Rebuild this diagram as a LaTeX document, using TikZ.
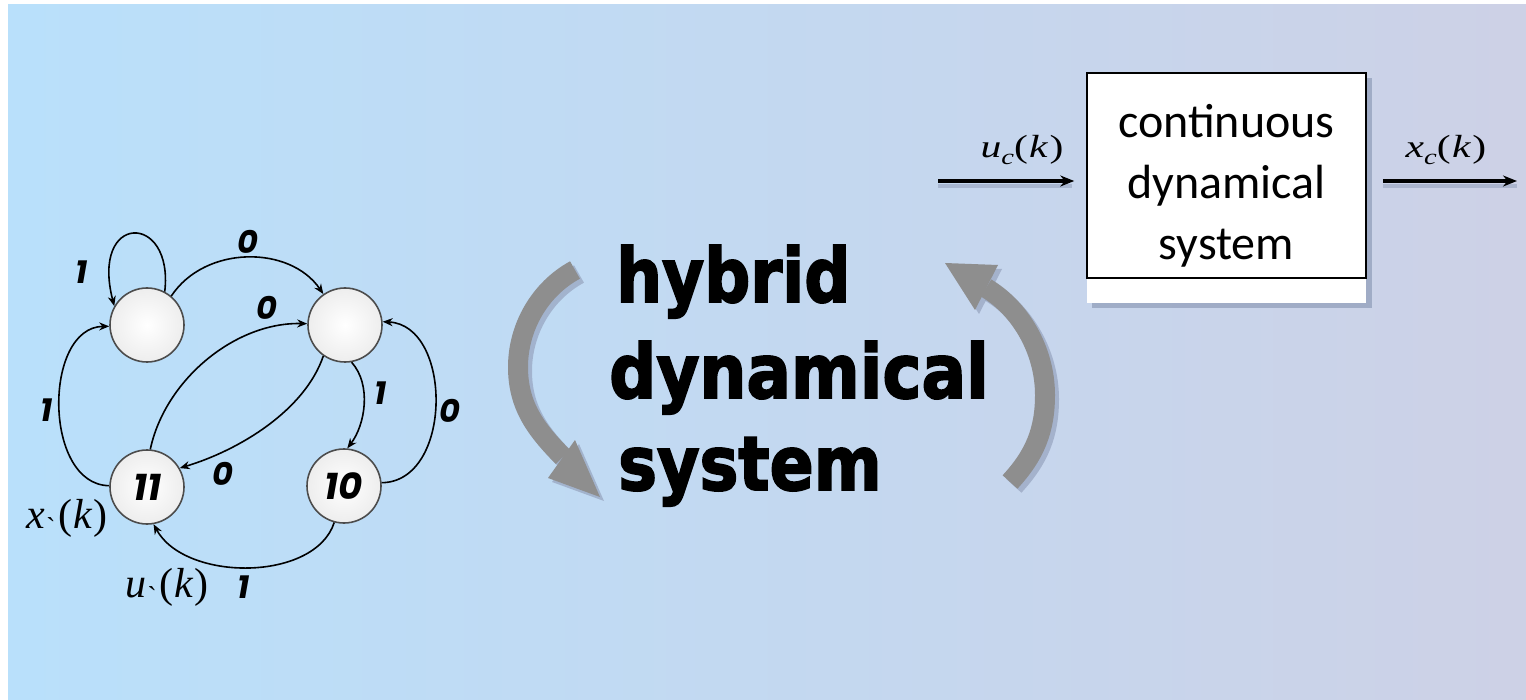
\documentclass[tikz,border=0pt]{standalone}
\usepackage{fontspec}
\usetikzlibrary{arrows.meta,calc}
\newfontfamily\digitfont{Poppins}
\newfontfamily\heavyfont{DejaVu Sans}[BoldFeatures={FakeBold=2.5}]
\newfontfamily\boxfont{Carlito}
\newfontfamily\timesfont{Liberation Serif}
\definecolor{bgL}{RGB}{185,224,251}
\definecolor{bgM}{RGB}{194,217,243}
\definecolor{bgR}{RGB}{205,209,230}
\definecolor{arrowgray}{RGB}{142,142,142}
\definecolor{shadowc}{RGB}{150,163,190}
\newcommand{\tick}{\kern3pt\raisebox{-14pt}{\fontsize{28}{28}\selectfont\`{}}\kern3pt}
\newcommand{\subc}{\raisebox{-7pt}{\fontsize{22}{22}\selectfont\itshape c}}
\begin{document}
\begin{tikzpicture}[x=1pt,y=-1pt,
  state/.style={circle, draw=black!70, line width=1.6pt, inner color=white, outer color=black!7,
    minimum size=74pt, inner sep=0pt, font=\digitfont\bfseries\itshape\fontsize{37}{37}\selectfont},
  edge/.style={line width=1.6pt, -{Stealth[length=10pt,width=8pt]}},
  elabel/.style={font=\digitfont\bfseries\itshape\fontsize{32}{32}\selectfont, inner sep=0pt},
  mlabel/.style={font=\timesfont\fontsize{42}{42}\selectfont, inner sep=0pt},
  clabel/.style={font=\timesfont\fontsize{32}{32}\selectfont, inner sep=0pt},
  hybrid/.style={font=\heavyfont\bfseries\fontsize{75}{75}\selectfont, inner sep=0pt},
  sigarrow/.style={line width=3.5pt, -{Stealth[length=14pt,width=11pt]}},
  sigshadow/.style={line width=4pt, shadowc, opacity=0.6},
  bigarrow/.style={line width=20pt, arrowgray},
  bigshadow/.style={line width=20pt, shadowc}
]
\useasboundingbox (0,0) rectangle (1526,700);
\fill[white] (0,0) rectangle (1526,700);
\shade[left color=bgL, middle color=bgM, right color=bgR] (8,5) rectangle (1526,700);

% ---------- state machine ----------
\node[state] (A) at (147,325) {};
\node[state] (B) at (345,325) {};
\node[state] (C) at (147,487) {11};
\node[state] (D) at (344,486) {10};

\draw[edge] (A.62) .. controls (174,212) and (90,212) .. (A.150);
\draw[edge] (A.50) .. controls (205,245) and (290,245) .. (B.125);
\draw[edge] (C.85) .. controls (165,380) and (235,322) .. (B.178);
\draw[edge] (B.235) .. controls (305,410) and (240,450) .. (C.30);
\draw[edge] (B.280) .. controls (372,385) and (365,425) .. (D.85);
\draw[edge] (D.5) .. controls (453,482) and (453,325) .. (B.5);
\draw[edge] (C.178) .. controls (43,485) and (43,327) .. (A.182);
\draw[edge] (D.255) .. controls (315,582) and (185,582) .. (C.280);

\node[elabel] (l1) at (82,272) {1};
\node[elabel] (l2) at (248,242) {0};
\node[elabel] (l3) at (267,308) {0};
\node[elabel] (l4) at (223,474) {0};
\node[elabel] (l5) at (381,393) {1};
\node[elabel] (l6) at (450,411) {0};
\node[elabel] (l7) at (47,410) {1};
\node[elabel] (l8) at (244,587) {1};

\node[mlabel] (xk) at (67,521) {\textit{x}\tick(\kern1pt\textit{k}\kern1pt)};
\node[mlabel] (uk) at (167,590) {\textit{u}\tick(\kern1pt\textit{k}\kern1pt)};

% ---------- hybrid dynamical system ----------
\node[hybrid, anchor=base west] (h1) at (616,302) {\scalebox{0.86}[1]{hybrid}};
\node[hybrid, anchor=base west] (h2) at (609,398) {\scalebox{0.88}[1]{dynamical}};
\node[hybrid, anchor=base west] (h3) at (618,490) {\scalebox{0.87}[1]{system}};

% gray circular arrows (shadow first)
\begin{scope}[shift={(4,4)}, opacity=0.7]
  \draw[bigshadow] (575,270) .. controls (540,289) and (518,327) .. (518,367)
                   .. controls (518,405) and (535,429) .. (563,457);
  \fill[shadowc] (548,478) -- (600,497) -- (575,440) -- cycle;
  \draw[bigshadow] (1010,482) .. controls (1035,455) and (1045,430) .. (1045,395)
                   .. controls (1045,350) and (1020,308) .. (986,288);
  \fill[shadowc] (998,265) -- (945,263) -- (975,310) -- cycle;
\end{scope}
\draw[bigarrow] (575,270) .. controls (540,289) and (518,327) .. (518,367)
                .. controls (518,405) and (535,429) .. (563,457);
\fill[arrowgray] (548,478) -- (600,497) -- (575,440) -- cycle;
\draw[bigarrow] (1010,482) .. controls (1035,455) and (1045,430) .. (1045,395)
                .. controls (1045,350) and (1020,308) .. (986,288);
\fill[arrowgray] (998,265) -- (945,263) -- (975,310) -- cycle;

% ---------- continuous dynamical system ----------
\fill[shadowc, opacity=0.8] (1092,78) rectangle (1372,308);
\fill[white] (1087,73) rectangle (1366,303);
\node[draw=black, line width=1.5pt, fill=white, minimum width=279pt, minimum height=205pt, inner sep=0pt]
  (cds) at (1226.5,175.5) {};
\node[font=\boxfont\fontsize{48}{61}\selectfont, align=center, inner sep=0pt] (cdstext) at (1226.5,186)
  {continuous\\dynamical\\system};

\coordinate (uin) at (938,181);
\coordinate (xout) at (1517,181);
\draw[sigshadow] ($(uin)+(0,5)$) -- ($(uin -| cds.west)+(-14,5)$);
\draw[sigshadow] ($(xout -| cds.east)+(16,5)$) -- ($(xout)+(0,5)$);
\draw[sigarrow, shorten >=12pt] (uin) -- (uin -| cds.west);
\draw[sigarrow, shorten <=16pt] (xout -| cds.east) -- (xout);
\node[clabel] (uc) at (1022,150) {\scalebox{1.3}[1]{\textit{u}\subc(\kern1pt\textit{k}\kern1pt)}};
\node[clabel] (xc) at (1446,150) {\scalebox{1.3}[1]{\textit{x}\subc(\kern1pt\textit{k}\kern1pt)}};
\end{tikzpicture}
\end{document}
